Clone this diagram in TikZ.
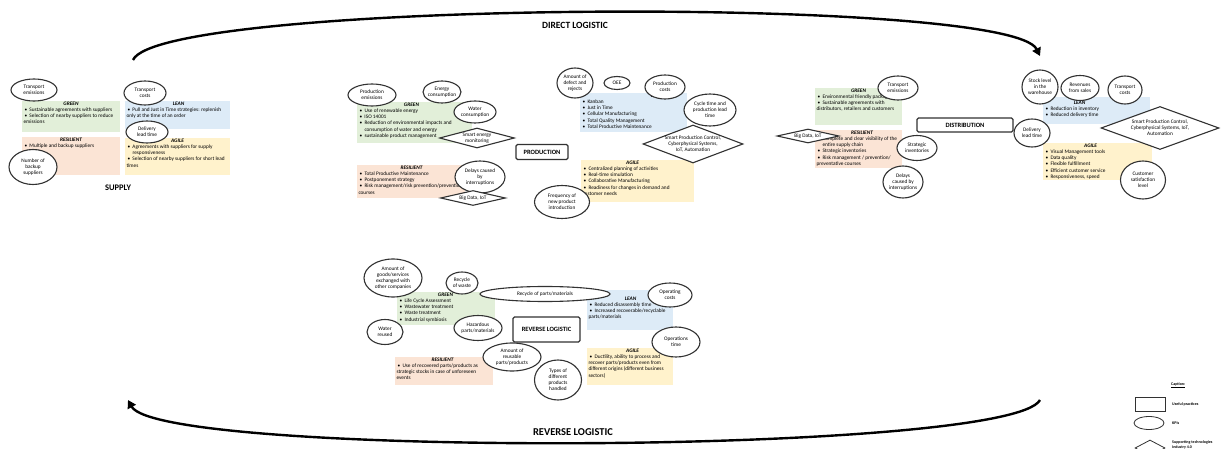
\documentclass[tikz,border=0pt]{standalone}
\usepackage{fontspec}
\setmainfont{Carlito}
\usetikzlibrary{shapes.geometric,fit,arrows.meta}
\definecolor{cgreen}{RGB}{226,239,217}
\definecolor{cblue}{RGB}{221,235,247}
\definecolor{cpeach}{RGB}{251,228,213}
\definecolor{cyellow}{RGB}{255,242,204}
\definecolor{cline}{RGB}{50,50,50}
\newcommand\sm{\fontsize{5.3}{6.1}\selectfont\hyphenpenalty=10000\exhyphenpenalty=10000}
\newcommand\itm[1]{\par\hangindent=6pt\hangafter=1\noindent\hbox to 6pt{\hskip1.2pt\textbullet\hss}#1}
\tikzset{
 boxtxt/.style={inner sep=0pt, align=flush left, font=\sm, anchor=north west},
 kpi/.style={ellipse, draw=cline, line width=1.1pt, fill=white, inner sep=0pt},
 tech/.style={diamond, draw=cline, line width=1.1pt, fill=white, inner sep=0pt},
 ktxt/.style={font=\sm, align=center, inner sep=0pt},
 stage/.style={draw=cline, line width=1.1pt, rounded corners=1.5pt, fill=white, font=\fontsize{6.5}{7.5}\selectfont\bfseries, inner sep=0pt},
 flow/.style={line width=2.4pt, -{Triangle[length=8pt,width=9pt]}},
 captxt/.style={font=\fontsize{4}{4.8}\selectfont\bfseries, anchor=west, inner sep=0pt, align=left},
}
\newcommand\pbox[8][1.2]{%
 \node[fill=#3, fit={#4 #5}, inner sep=0pt] (#2) {};
 \node[boxtxt, text width=#6pt] (#2-t) at ([xshift=1.5pt,yshift=-#1pt]#2.north west) {\centerline{\bfseries\itshape #7}#8};}
\newcommand\kpi[5]{\node[kpi, minimum width=#3pt, minimum height=#4pt] (#1) at #2 {}; \node[ktxt] (#1-t) at (#1) {#5};}
\newcommand\tec[5]{\node[tech, minimum width=#3pt, minimum height=#4pt] (#1) at #2 {}; \node[ktxt] (#1-t) at (#1) {#5};}
\begin{document}
\begin{tikzpicture}[x=1pt,y=-1pt]
\useasboundingbox (0,0) rectangle (1224,449);
\fill[white] (0,0) rectangle (1224,449);
% ---------- flows
\coordinate (d0) at (133,60); \coordinate (d1) at (1040,56);
\draw[flow] (d0) .. controls (160,0) and (1010,-5) .. (d1);
\node[font=\fontsize{9.5}{11}\selectfont\bfseries, inner sep=0pt] (dlt) at (575,25) {DIRECT LOGISTIC};
\coordinate (r0) at (1040,400); \coordinate (r1) at (128,400);
\draw[flow] (r0) .. controls (1010,455) and (160,458) .. (r1);
\node[font=\fontsize{10.5}{12}\selectfont\bfseries, inner sep=0pt] (rlt) at (573,432) {REVERSE LOGISTIC};
% ---------- SUPPLY
\pbox{sg}{cgreen}{(22,101)}{(120,132)}{95}{GREEN}{\itm{Sustainable agreements with suppliers}\itm{Selection of nearby suppliers to reduce emissions}}
\pbox{sl}{cblue}{(125,101)}{(230,129)}{104}{LEAN}{\itm{Pull and Just in Time strategies: replenish only at the time of an order}}
\pbox{sr}{cpeach}{(22,137)}{(120,175)}{95}{RESILIENT}{\itm{Multiple and backup suppliers}}
\pbox{sa}{cyellow}{(125,138)}{(230,175)}{102}{AGILE}{\itm{Agreements with suppliers for supply responsiveness}\itm{Selection of nearby suppliers for short lead times}}
\kpi{s1}{(34,90)}{46}{22}{Transport\\emissions}
\kpi{s2}{(145,93)}{42}{24}{Transport\\costs}
\kpi{s3}{(147,132)}{42}{22}{Delivery\\lead time}
\kpi{s4}{(33,167)}{48}{35}{Number of\\backup\\suppliers}
\node[font=\fontsize{8.5}{10}\selectfont\bfseries, inner sep=0pt] (sup) at (118,188) {SUPPLY};
% ---------- PRODUCTION
\pbox{pg}{cgreen}{(357,102)}{(472,143)}{106}{GREEN}{\itm{Use of renewable energy}\itm{ISO 14001}\itm{Reduction of environmental impacts and consumption of water and energy}\itm{sustainable product management}}
\pbox{pr}{cpeach}{(357,165)}{(465,198)}{106}{RESILIENT}{\itm{Total Productive Maintenance}\itm{Postponement strategy}\itm{Risk management/risk prevention/prevention courses}}
\pbox{pl}{cblue}{(580,93)}{(687,132)}{150}{LEAN}{\itm{Kanban}\itm{Just in Time}\itm{Cellular Manufacturing}\itm{Total Quality Management}\itm{Total Productive Maintenance}}
\pbox{pa}{cyellow}{(581,160)}{(694,202)}{100}{AGILE}{\itm{Centralized planning of activities}\itm{Real-time simulation}\itm{Collaborative Manufacturing}\itm{Readiness for changes in demand and customer needs}}
\node[stage, minimum width=52pt, minimum height=15pt] (prod) at (542,152) {PRODUCTION};
\kpi{p1}{(372,95)}{48}{22}{Production\\emissions}
\kpi{p2}{(442,92)}{38}{22}{Energy\\consumption}
\kpi{p3}{(475,112)}{42}{22}{Water\\consumption}
\tec{p4}{(477,138)}{75}{20}{Smart energy\\monitoring}
\kpi{p5}{(480,177)}{50}{32}{Delays caused\\by\\interruptions}
\tec{p6}{(473,198)}{65}{15}{Big Data, IoT}
\kpi{p7}{(575,83)}{36}{30}{Amount of\\defect and\\rejects}
\kpi{p8}{(617,83)}{26}{13}{OEE}
\kpi{p9}{(665,87)}{40}{24}{Production\\costs}
\kpi{p10}{(710,110)}{52}{32}{Cycle time and\\production lead\\time}
\tec{p11}{(693,144)}{100}{38}{Smart Production Control,\\Cyberphysical Systems,\\IoT, Automation}
\kpi{p12}{(562,202)}{55}{33}{Frequency of\\new product\\introduction}
% ---------- DISTRIBUTION
\pbox{dg}{cgreen}{(815,88)}{(902,125)}{84}{GREEN}{\itm{Environmental friendly package}\itm{Sustainable agreements with distributors, retailers and customers}}
\pbox{dr}{cpeach}{(815,130)}{(902,168)}{91}{RESILIENT}{\itm{Complete and clear visibility of the entire supply chain}\itm{Strategic inventories}\itm{Risk management / prevention/ preventative courses}}
\pbox[4]{dl}{cblue}{(1043,97)}{(1150,124)}{70}{LEAN}{\itm{Reduction in inventory}\itm{Reduced delivery time}}
\pbox{da}{cyellow}{(1043,143)}{(1152,180)}{92}{AGILE}{\itm{Visual Management tools}\itm{Data quality}\itm{Flexible fulfillment}\itm{Efficient customer service}\itm{Responsiveness, speed}}
\node[stage, minimum width=96pt, minimum height=14pt] (dist) at (965,125) {DISTRIBUTION};
\kpi{d1}{(898,88)}{40}{24}{Transport\\emissions}
\tec{d2}{(808,136)}{62}{14}{Big Data, IoT}
\kpi{d3}{(917,148)}{40}{25}{Strategic\\inventories}
\kpi{d4}{(903,182)}{40}{32}{Delays\\caused by\\interruptions}
\kpi{d5}{(1040,87)}{36}{34}{Stock level\\in the\\warehouse}
\kpi{d6}{(1080,88)}{38}{25}{Revenues\\from sales}
\kpi{d7}{(1125,90)}{34}{28}{Transport\\costs}
\kpi{d8}{(1032,133)}{36}{28}{Delivery\\lead time}
\tec{d9}{(1160,128)}{118}{43}{Smart Production Control,\\Cyberphysical Systems, IoT,\\Automation}
\kpi{d10}{(1143,180)}{45}{38}{Customer\\satisfaction\\level}
% ---------- REVERSE LOGISTIC
\pbox{rg}{cgreen}{(397,292)}{(495,325)}{94}{GREEN}{\itm{Life Cycle Assessment}\itm{Wastewater treatment}\itm{Waste treatment}\itm{Industrial symbiosis}}
\pbox{rr}{cpeach}{(395,357)}{(493,385)}{92}{RESILIENT}{\itm{Use of recovered parts/products as strategic stocks in case of unforeseen events}}
\pbox[7]{rl}{cblue}{(587,290)}{(673,330)}{84}{LEAN}{\itm{Reduced disassembly time}\itm{Increased recoverable/recyclable parts/materials}}
\pbox{ra}{cyellow}{(587,348)}{(673,385)}{88}{AGILE}{\itm{Ductility, ability to process and recover parts/products even from different origins (different business sectors)}}
\node[stage, minimum width=67pt, minimum height=25pt] (rev) at (546.5,329.5) {REVERSE LOGISTIC};
\kpi{r1}{(393,278)}{58}{38}{Amount of\\goods/services\\exchanged with\\other companies}
\kpi{r2}{(462,283)}{32}{22}{Recycle\\of waste}
\kpi{r3}{(385,332)}{36}{25}{Water\\reused}
\kpi{r4}{(478,328)}{48}{25}{Hazardous\\parts/materials}
\kpi{r5}{(545,294)}{130}{15}{Recycle of parts/materials}
\kpi{r6}{(670,295)}{44}{24}{Operating\\costs}
\kpi{r7}{(676,342)}{48}{30}{Operations\\time}
\kpi{r8}{(512,357)}{58}{28}{Amount of\\reusable\\parts/products}
\kpi{r9}{(558,380)}{47}{40}{Types of\\different\\products\\handled}
% ---------- Caption
\node[captxt] (cap) at (1171,385) {\underline{Caption:}};
\node[draw=cline, line width=0.8pt, minimum width=30pt, minimum height=14pt, inner sep=0pt] (capr) at (1150,404) {};
\node[captxt] (caprt) at (1172,404) {Useful practices};
\node[kpi, line width=0.8pt, minimum width=30pt, minimum height=13pt] (cape) at (1149,423) {};
\node[captxt] (capet) at (1172,423) {KPIs};
\node[tech, line width=0.8pt, minimum width=30pt, minimum height=16pt] (capd) at (1150,448) {};
\node[captxt] (capdt) at (1172,445) {Supporting technologies\\Industry 4.0};
\end{tikzpicture}
\end{document}
